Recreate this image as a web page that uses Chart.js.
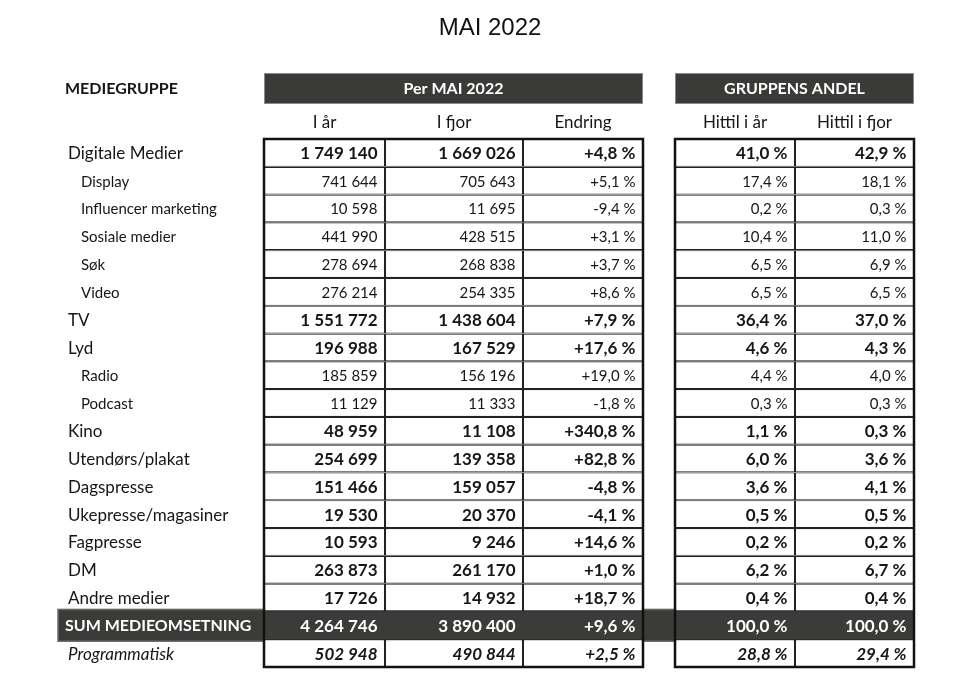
<!DOCTYPE html>
<html><head><meta charset="utf-8">
<script src="https://cdn.jsdelivr.net/npm/chart.js@4.4.1/dist/chart.umd.min.js"></script>
<style>html,body{margin:0;padding:0;background:#fff}#wrap{width:980px;height:674px;position:relative}</style>
</head><body><div id="wrap"><canvas id="c"></canvas></div>
<script>
// ---------- DATA ----------
const chartTitle = 'MAI 2022';
const rowHeader = 'MEDIEGRUPPE';
const groupHeaders = ['Per MAI 2022', 'GRUPPENS ANDEL'];
const columns = ['I år', 'I fjor', 'Endring', 'Hittil i år', 'Hittil i fjor'];
const categories = ['Digitale Medier', 'Display', 'Influencer marketing', 'Sosiale medier', 'Søk', 'Video',
  'TV', 'Lyd', 'Radio', 'Podcast', 'Kino', 'Utendørs/plakat', 'Dagspresse', 'Ukepresse/magasiner',
  'Fagpresse', 'DM', 'Andre medier', 'SUM MEDIEOMSETNING', 'Programmatisk'];
const rowType = ['main', 'sub', 'sub', 'sub', 'sub', 'sub', 'main', 'main', 'sub', 'sub', 'main', 'main',
  'main', 'main', 'main', 'main', 'main', 'sum', 'prog'];
const iAar = [1749140, 741644, 10598, 441990, 278694, 276214, 1551772, 196988, 185859, 11129, 48959,
  254699, 151466, 19530, 10593, 263873, 17726, 4264746, 502948];
const iFjor = [1669026, 705643, 11695, 428515, 268838, 254335, 1438604, 167529, 156196, 11333, 11108,
  139358, 159057, 20370, 9246, 261170, 14932, 3890400, 490844];
const endring = [4.8, 5.1, -9.4, 3.1, 3.7, 8.6, 7.9, 17.6, 19.0, -1.8, 340.8, 82.8, -4.8, -4.1, 14.6,
  1.0, 18.7, 9.6, 2.5];
const hittilIAar = [41.0, 17.4, 0.2, 10.4, 6.5, 6.5, 36.4, 4.6, 4.4, 0.3, 1.1, 6.0, 3.6, 0.5, 0.2,
  6.2, 0.4, 100.0, 28.8];
const hittilIFjor = [42.9, 18.1, 0.3, 11.0, 6.9, 6.5, 37.0, 4.3, 4.0, 0.3, 0.3, 3.6, 4.1, 0.5, 0.2,
  6.7, 0.4, 100.0, 29.4];

// ---------- FORMATTING ----------
const fmtInt = n => String(n).replace(/\B(?=(\d{3})+(?!\d))/g, ' ');
const fmtPct = v => v.toFixed(1).replace('.', ',') + ' %';
const fmtChg = v => (v >= 0 ? '+' : '-') + Math.abs(v).toFixed(1).replace('.', ',') + ' %';
const cellText = [iAar.map(fmtInt), iFjor.map(fmtInt), endring.map(fmtChg), hittilIAar.map(fmtPct), hittilIFjor.map(fmtPct)];

// ---------- LAYOUT (x-scale units) ----------
const colSpan = [[0, 121], [121, 259], [259, 379], [411, 531], [531, 650]];
const groupSpan = [[0, 379], [411, 650]];
const FONT = 'Lato, "Open Sans", sans-serif';
const DARK = '#3b3b39';
const INK = '#161616';

const tablePlugin = {
  id: 'tablePlugin',
  beforeDatasetsDraw(chart) {
    const { ctx, scales: { y }, chartArea } = chart;
    const rowH = (chartArea.bottom - chartArea.top) / categories.length;
    ctx.save();
    categories.forEach((c, i) => {
      if (rowType[i] !== 'sum') return;
      const yc = y.getPixelForValue(i);
      ctx.fillStyle = DARK;
      ctx.fillRect(58, yc - rowH / 2 - 2, chartArea.right - 58, rowH + 4);
      ctx.strokeStyle = '#6a6a68';
      ctx.lineWidth = 1.5;
      ctx.strokeRect(58, yc - rowH / 2 - 2, chartArea.right - 58, rowH + 4);
    });
    ctx.restore();
  },
  afterDatasetsDraw(chart) {
    const { ctx, scales: { x, y }, chartArea } = chart;
    const top = chartArea.top, bottom = chartArea.bottom;
    ctx.save();
    // outer borders
    ctx.strokeStyle = '#111';
    ctx.lineWidth = 2.5;
    groupSpan.forEach(([a, b]) => {
      const x0 = x.getPixelForValue(a), x1 = x.getPixelForValue(b);
      ctx.strokeRect(x0, top, x1 - x0, bottom - top);
    });
    // group headers
    groupSpan.forEach(([a, b], g) => {
      const x0 = x.getPixelForValue(a), x1 = x.getPixelForValue(b);
      ctx.fillStyle = '#3a3a38';
      ctx.fillRect(x0, top - 66, x1 - x0, 31);
      ctx.strokeStyle = '#8a8a88';
      ctx.lineWidth = 1;
      ctx.strokeRect(x0 + 0.5, top - 65.5, x1 - x0 - 1, 30);
      ctx.fillStyle = '#ffffff';
      ctx.font = 'bold 16px ' + FONT;
      ctx.textAlign = 'center';
      ctx.textBaseline = 'middle';
      ctx.fillText(groupHeaders[g], (x0 + x1) / 2, top - 50);
    });
    // row header
    ctx.fillStyle = INK;
    ctx.font = 'bold 16px ' + FONT;
    ctx.textAlign = 'left';
    ctx.fillText(rowHeader, 65, top - 50);
    // column headers
    ctx.font = '17px ' + FONT;
    ctx.textAlign = 'center';
    columns.forEach((h, c) => {
      const xc = (x.getPixelForValue(colSpan[c][0]) + x.getPixelForValue(colSpan[c][1])) / 2;
      ctx.fillText(h, xc, top - 16);
    });
    // rows
    categories.forEach((label, i) => {
      const t = rowType[i];
      const yc = y.getPixelForValue(i) + 1;
      let lf, vf, lx, color = INK;
      if (t === 'main') { lf = '17px ' + FONT; vf = 'bold 17px ' + FONT; lx = 68; }
      else if (t === 'sub') { lf = '15px ' + FONT; vf = '15px ' + FONT; lx = 81; }
      else if (t === 'sum') { lf = 'bold 16px ' + FONT; vf = 'bold 17px ' + FONT; lx = 65; color = '#ffffff'; }
      else { lf = 'italic 17px ' + FONT; vf = 'italic bold 17px ' + FONT; lx = 68; }
      ctx.fillStyle = color;
      ctx.textAlign = 'left';
      ctx.font = lf;
      ctx.fillText(label, lx, yc);
      ctx.textAlign = 'right';
      ctx.font = vf;
      cellText.forEach((col, c) => {
        ctx.fillText(col[i], x.getPixelForValue(colSpan[c][1]) - 7.5, yc);
      });
    });
    ctx.restore();
  }
};

const hiddenAxis = (pos, w) => ({
  position: pos, display: true,
  ticks: { display: false }, grid: { display: false }, border: { display: false },
  afterFit: s => { s.width = w; }
});

new Chart(document.getElementById('c'), {
  type: 'bar',
  data: {
    labels: categories,
    datasets: columns.map((name, c) => ({
      label: name,
      data: categories.map(() => colSpan[c]),
      backgroundColor: ctx => rowType[ctx.dataIndex] === 'sum' ? DARK : '#ffffff',
      borderColor: ctx => rowType[ctx.dataIndex] === 'sum' ? DARK : '#222222',
      borderWidth: 1.1,
      borderSkipped: false,
      inflateAmount: 0,
      barPercentage: 1,
      categoryPercentage: 1,
      grouped: false
    }))
  },
  options: {
    indexAxis: 'y',
    responsive: true,
    maintainAspectRatio: false,
    animation: false,
    events: [],
    layout: { padding: { left: 0, right: 0, top: 0, bottom: 7 } },
    scales: {
      x: { type: 'linear', min: 0, max: 650, display: false },
      y: Object.assign({ type: 'category', offset: true }, hiddenAxis('left', 264)),
      yRight: Object.assign({ type: 'linear', axis: 'y', min: 0, max: 1 }, hiddenAxis('right', 66))
    },
    plugins: {
      legend: { display: false },
      tooltip: { enabled: false },
      title: {
        display: true, text: chartTitle, color: '#111',
        font: { family: '"Liberation Sans", Arial, sans-serif', size: 24, weight: 'normal', lineHeight: 1.2 },
        padding: { top: 14, bottom: 96.2 }
      }
    }
  },
  plugins: [tablePlugin]
});
</script>
</body></html>
